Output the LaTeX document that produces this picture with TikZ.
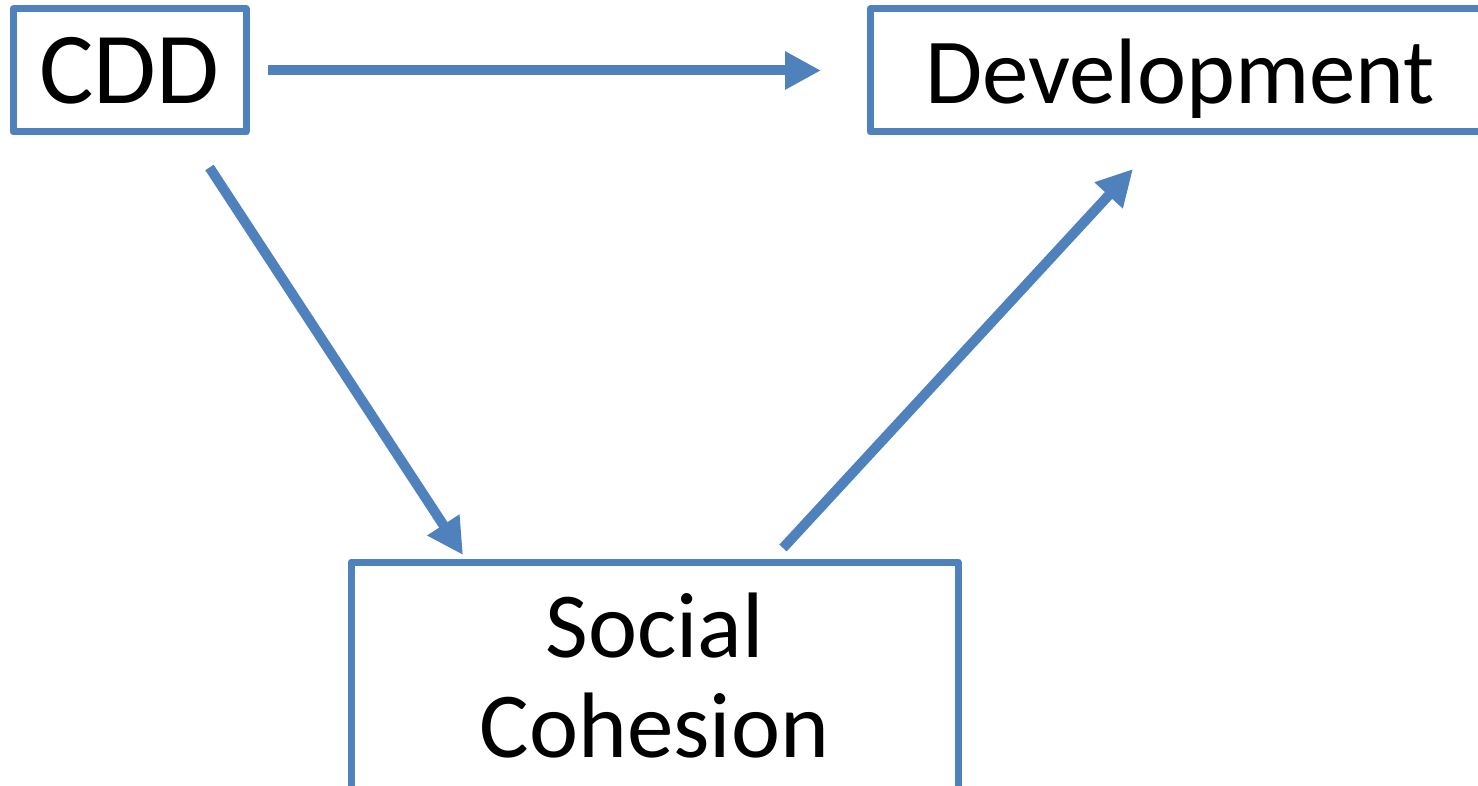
\documentclass[tikz,border=0pt]{standalone}
\usepackage{fontspec}
\setmainfont{Carlito}
\usetikzlibrary{arrows.meta}
\definecolor{boxblue}{HTML}{4F81BD}
\tikzset{
    block/.style={
        draw=boxblue, rectangle, line width=7pt,
        line join=round, inner sep=0pt, text=black,
        font=\fontsize{93}{100}\selectfont
    },
    topblock/.style={
        block, minimum height=123pt,
        text height=67pt, text depth=0pt
    },
    connect/.style={-{Triangle[length=36pt,width=36pt]}, line width=10pt, boxblue}
}
\begin{document}
\begin{tikzpicture}[x=1pt,y=-1pt]
	\useasboundingbox (0,0) rectangle (1478,786);
	\clip (0,0) rectangle (1478,786);

	\node[topblock, minimum width=233pt, font=\fontsize{102}{110}\selectfont] (cdd) at (129.5,70.5) {CDD};
	\node[topblock, minimum width=620pt] (dev) at (1180,70.5) {Development};
	\node[block, minimum width=607pt, minimum height=227pt, align=center] (soc) at (654.5,675.5) {Social\\Cohesion};

	\draw[connect] ([xshift=18pt]cdd.east) -- ([xshift=-45.5pt]dev.west);
	\draw[connect] ([shift={(80,32)}]cdd.south) -- ([shift={(115.5,-3.5)}]soc.north west);
	\draw[connect] ([shift={(128.5,-10.5)}]soc.north) -- ([shift={(266.5,33.5)}]dev.south west);
\end{tikzpicture}
\end{document}
